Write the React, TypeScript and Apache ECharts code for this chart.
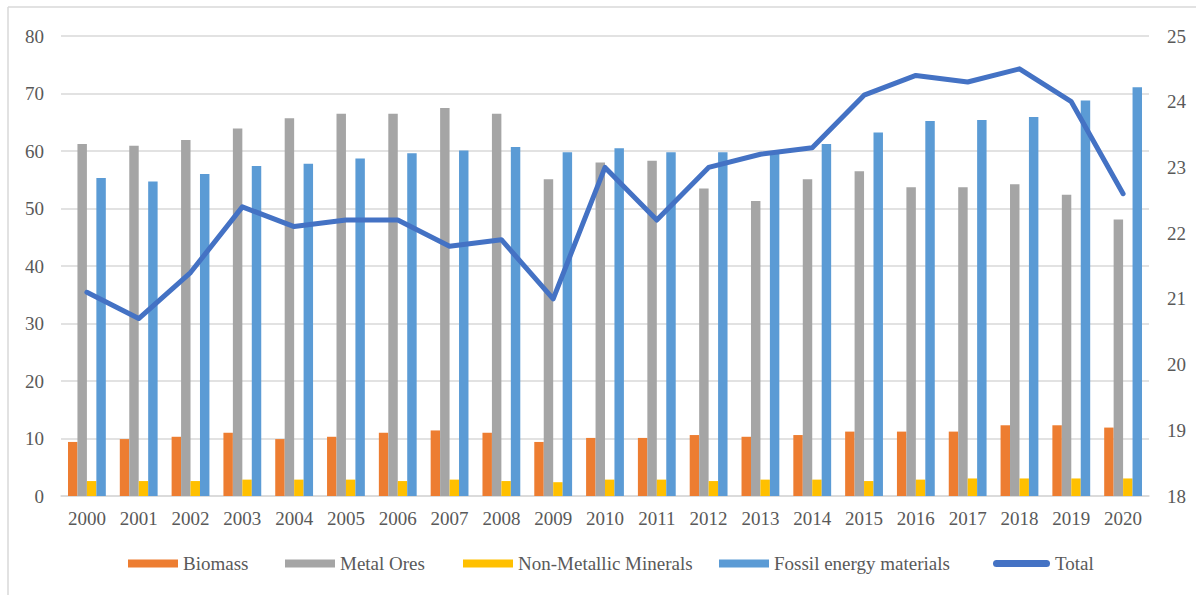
import React, { useEffect, useRef } from "react";
import * as echarts from "echarts";

const years = ["2000","2001","2002","2003","2004","2005","2006","2007","2008","2009","2010","2011","2012","2013","2014","2015","2016","2017","2018","2019","2020"];
const biomass = [9.4, 9.9, 10.3, 11.0, 9.9, 10.3, 11.0, 11.4, 11.0, 9.4, 10.1, 10.1, 10.6, 10.3, 10.6, 11.2, 11.2, 11.2, 12.3, 12.3, 11.9];
const metalOres = [61.2, 60.9, 61.9, 63.9, 65.7, 66.5, 66.5, 67.5, 66.5, 55.1, 58.0, 58.3, 53.5, 51.3, 55.1, 56.5, 53.7, 53.7, 54.2, 52.4, 48.1];
const nonMetallic = [2.6, 2.6, 2.6, 2.85, 2.85, 2.85, 2.6, 2.85, 2.6, 2.4, 2.85, 2.85, 2.6, 2.85, 2.85, 2.6, 2.85, 3.05, 3.05, 3.05, 3.05];
const fossil = [55.3, 54.7, 56.0, 57.4, 57.8, 58.7, 59.6, 60.1, 60.7, 59.8, 60.5, 59.8, 59.8, 59.6, 61.2, 63.2, 65.2, 65.4, 65.9, 68.8, 71.1];
const total = [21.1, 20.7, 21.4, 22.4, 22.1, 22.2, 22.2, 21.8, 21.9, 21.0, 23.0, 22.2, 23.0, 23.2, 23.3, 24.1, 24.4, 24.3, 24.5, 24.0, 22.6];

const leftTicks = { min: 0, max: 80, interval: 10 };
const rightTicks = { min: 18, max: 25, interval: 1 };

const FONT = "'Liberation Serif', 'Times New Roman', serif";
const TEXT = "#595959";

export default function App() {
  const ref = useRef<HTMLDivElement>(null);
  useEffect(() => {
    if (!ref.current) return;
    const chart = echarts.init(ref.current, undefined, { renderer: "svg" });
    const legendBase = {
      top: 554,
      padding: 0,
      itemHeight: 8,
      itemWidth: 50,
      textStyle: { fontFamily: FONT, fontSize: 19, color: TEXT },
      selectedMode: false,
    };
    chart.setOption({
      animation: false,
      backgroundColor: "#ffffff",
      textStyle: { fontFamily: FONT },
      graphic: [
        { type: "line", shape: { x1: 8, y1: 7, x2: 1196, y2: 7 }, style: { stroke: "#D9D9D9", lineWidth: 1.5 } },
        { type: "line", shape: { x1: 8, y1: 7, x2: 8, y2: 595 }, style: { stroke: "#D9D9D9", lineWidth: 1.5 } },
      ],
      legend: [
        { ...legendBase, left: 128, data: [{ name: "Biomass", icon: "rect" }] },
        { ...legendBase, left: 285, data: [{ name: "Metal Ores", icon: "rect" }] },
        { ...legendBase, left: 463, data: [{ name: "Non-Metallic Minerals", icon: "rect" }] },
        { ...legendBase, left: 719, data: [{ name: "Fossil energy materials", icon: "rect" }] },
        {
          ...legendBase,
          left: 993,
          itemWidth: 57,
          itemHeight: 7,
          data: [{ name: "Total", icon: "path://M3.5,0 L53.5,0 A3.5,3.5 0 0 1 53.5,7 L3.5,7 A3.5,3.5 0 0 1 3.5,0 Z" }],
        },
      ],
      grid: { left: 61, right: 47, top: 36, bottom: 99, containLabel: false },
      xAxis: {
        type: "category",
        data: years,
        axisLine: { show: true, lineStyle: { color: "#D9D9D9", width: 1.5 } },
        axisTick: { show: false },
        axisLabel: { color: TEXT, fontFamily: FONT, fontSize: 19, margin: 13 },
      },
      yAxis: [
        {
          type: "value",
          ...leftTicks,
          axisLine: { show: false },
          axisTick: { show: false },
          splitLine: { lineStyle: { color: "#D9D9D9", width: 1.5 } },
          axisLabel: { color: TEXT, fontFamily: FONT, fontSize: 19, margin: 17 },
        },
        {
          type: "value",
          ...rightTicks,
          position: "right",
          axisLine: { show: false },
          axisTick: { show: false },
          splitLine: { show: false },
          axisLabel: { color: TEXT, fontFamily: FONT, fontSize: 19, margin: 18 },
        },
      ],
      series: [
        { name: "Biomass", type: "bar", data: biomass, itemStyle: { color: "#ED7D31" }, barGap: "0%", barCategoryGap: "27%" },
        { name: "Metal Ores", type: "bar", data: metalOres, itemStyle: { color: "#A5A5A5" }, barGap: "0%", barCategoryGap: "27%" },
        { name: "Non-Metallic Minerals", type: "bar", data: nonMetallic, itemStyle: { color: "#FFC000" }, barGap: "0%", barCategoryGap: "27%" },
        { name: "Fossil energy materials", type: "bar", data: fossil, itemStyle: { color: "#5B9BD5" }, barGap: "0%", barCategoryGap: "27%" },
        {
          name: "Total",
          type: "line",
          yAxisIndex: 1,
          data: total,
          showSymbol: false,
          symbol: "none",
          z: 10,
          itemStyle: { color: "#4472C4" },
          lineStyle: { color: "#4472C4", width: 5, join: "round", cap: "round" },
        },
      ],
    });
    return () => chart.dispose();
  }, []);
  return (
    <div
      ref={ref}
      style={{ position: "fixed", left: 0, top: 0, width: 1196, height: 595, background: "#fff" }}
    />
  );
}
